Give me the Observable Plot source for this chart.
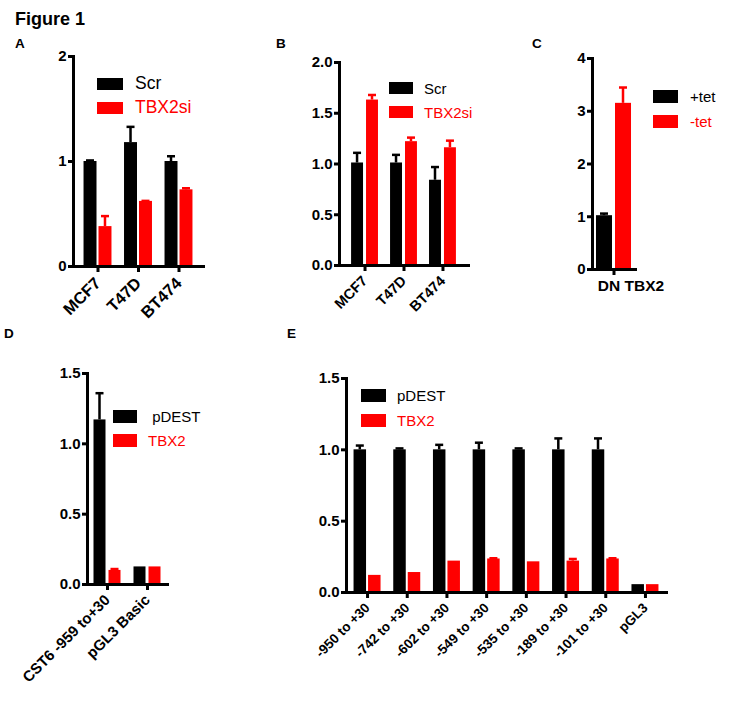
<!DOCTYPE html>
<html><head><meta charset="utf-8">
<script src="https://cdn.jsdelivr.net/npm/d3@7"></script>
<script src="https://cdn.jsdelivr.net/npm/@observablehq/plot@0.6"></script>
<style>
body{margin:0;background:#fff;}
#root{position:relative;width:730px;height:708px;font-family:"Liberation Sans",Arial,sans-serif;color:#000;overflow:hidden;}
.abs{position:absolute;line-height:1;white-space:nowrap;}
.bold{font-weight:bold;}
.sw{position:absolute;}
</style></head><body><div id="root"></div>
<script>
// ---------------- data ----------------
const RED = "#ff0000";

const catsA = ["MCF7", "T47D", "BT474"];
const seriesA = ["Scr", "TBX2si"];
const scrA = [1.0, 1.18, 1.0];
const scrErrA = [0.01, 0.15, 0.05];
const siA = [0.38, 0.62, 0.73];
const siErrA = [0.10, 0.005, 0.015];
const ticksA = [0, 1, 2];

const catsB = ["MCF7", "T47D", "BT474"];
const seriesB = ["Scr", "TBX2si"];
const scrB = [1.01, 1.01, 0.84];
const scrErrB = [0.10, 0.08, 0.13];
const siB = [1.63, 1.22, 1.16];
const siErrB = [0.05, 0.04, 0.07];
const ticksB = [0, 0.5, 1.0, 1.5, 2.0];

const catsC = ["DN TBX2"];
const seriesC = ["+tet", "-tet"];
const plusTetC = [1.02];
const plusTetErrC = [0.04];
const minusTetC = [3.15];
const minusTetErrC = [0.30];
const ticksC = [0, 1, 2, 3, 4];

const catsD = ["CST6 -959 to+30", "pGL3 Basic"];
const seriesD = [" pDEST", "TBX2"];
const pdestD = [1.17, 0.125];
const pdestErrD = [0.19, 0];
const tbx2D = [0.10, 0.125];
const tbx2ErrD = [0.01, 0];
const ticksD = [0, 0.5, 1.0, 1.5];

const catsE = ["-950 to +30", "-742 to +30", "-602 to +30", "-549 to +30", "-535 to +30", "-189 to +30", "-101 to +30", "pGL3"];
const seriesE = ["pDEST", "TBX2"];
const pdestE = [1.0, 1.0, 1.0, 1.0, 1.0, 1.0, 1.0, 0.055];
const pdestErrE = [0.03, 0.01, 0.035, 0.05, 0.01, 0.08, 0.08, 0];
const tbx2E = [0.12, 0.14, 0.22, 0.235, 0.215, 0.22, 0.235, 0.055];
const tbx2ErrE = [0, 0, 0, 0.005, 0, 0.015, 0.005, 0];
const ticksE = [0, 0.5, 1.0, 1.5];

// ---------------- drawing ----------------
const root = document.getElementById("root");

function text(str, left, top, size, opts = {}) {
  const d = document.createElement("div");
  d.className = "abs" + (opts.bold ? " bold" : "");
  d.textContent = str;
  d.style.left = left + "px";
  d.style.top = top + "px";
  d.style.fontSize = size + "px";
  d.style.color = opts.color || "#000";
  if (opts.white) d.style.whiteSpace = "pre";
  root.appendChild(d);
}
function swatch(left, top, w, h, color) {
  const d = document.createElement("div");
  d.className = "sw";
  Object.assign(d.style, {left: left + "px", top: top + "px", width: w + "px", height: h + "px", background: color});
  root.appendChild(d);
}
function legend(names, x, tx, y1, y2, w, h, size = 15) {
  swatch(x, y1, w, h, "#000");
  swatch(x, y2, w, h, RED);
  text(names[0], tx, y1 + h / 2 - 0.4885 * size, size, {color: "#000", white: true});
  text(names[1], tx, y2 + h / 2 - 0.4885 * size, size, {color: RED, white: true});
}

function panel(cfg) {
  const {cats, v1, e1, v2, e2, ydom, ticks, fmt, W, H, m, pi, po, gap, rotate, left, top, xFont, yFont, xPad, xdx = 0} = cfg;
  const n = cats.length;
  const innerW = W - m.l - m.r;
  const step = innerW / (n - pi + 2 * po);
  const bw = step * (1 - pi);
  const rows = cats.map((c, i) => ({c, v1: v1[i], e1: e1[i], v2: v2[i], e2: e2[i]}));
  const wW = 2.5, capW = 8;
  const c1 = (bw - gap) / 4, c2 = (3 * bw + gap) / 4;
  const ins = (c, w) => ({insetLeft: c - w / 2, insetRight: bw - c - w / 2});
  const err1 = rows.filter(d => d.e1 > 0), err2 = rows.filter(d => d.e2 > 0);
  const svg = Plot.plot({
    width: W, height: H,
    marginLeft: m.l, marginRight: m.r, marginTop: m.t, marginBottom: m.b,
    x: {domain: cats, paddingInner: pi, paddingOuter: po, round: false},
    y: {domain: ydom},
    style: {fontFamily: "'Liberation Sans', Arial, sans-serif", fontSize: "14px", fontWeight: "bold", background: "transparent", overflow: "visible", color: "#000"},
    marks: [
      Plot.barY(rows, {x: "c", y: "v1", fill: "#000", insetLeft: 0, insetRight: bw / 2 + gap / 2}),
      Plot.barY(rows, {x: "c", y: "v2", fill: RED, insetLeft: bw / 2 + gap / 2, insetRight: 0}),
      Plot.barY(err1, {x: "c", y1: "v1", y2: d => d.v1 + d.e1, fill: "#000", ...ins(c1, wW)}),
      Plot.tickY(err1, {x: "c", y: d => d.v1 + d.e1, stroke: "#000", strokeWidth: 2.5, ...ins(c1, capW)}),
      Plot.barY(err2, {x: "c", y1: "v2", y2: d => d.v2 + d.e2, fill: RED, ...ins(c2, wW)}),
      Plot.tickY(err2, {x: "c", y: d => d.v2 + d.e2, stroke: RED, strokeWidth: 2.5, ...ins(c2, capW)}),
      Plot.axisY({ticks, tickFormat: d3.format(fmt), tickSize: 5, tickPadding: 2, strokeWidth: 3, label: null, fontSize: yFont}),
      Plot.axisX({tickSize: 6, tickPadding: 0, strokeWidth: 3, text: null, label: null}),
      Plot.axisX({tickSize: 0, tickPadding: xPad, tickRotate: rotate, label: null, fontSize: xFont, dx: xdx}),
      Plot.frame({anchor: "left", strokeWidth: 3}),
      Plot.frame({anchor: "bottom", strokeWidth: 3})
    ]
  });
  const wrap = document.createElement("div");
  Object.assign(wrap.style, {position: "absolute", left: left + "px", top: top + "px"});
  wrap.appendChild(svg);
  root.appendChild(wrap);
}

// titles
text("Figure 1", 15, 10.2, 18, {bold: true});
text("A", 15, 37, 13.5, {bold: true});
text("B", 276, 37, 13.5, {bold: true});
text("C", 532, 37, 13.5, {bold: true});
text("D", 4, 327, 13.5, {bold: true});
text("E", 287, 327, 13.5, {bold: true});

panel({cats: catsA, v1: scrA, e1: scrErrA, v2: siA, e2: siErrA, ydom: [0, 2], ticks: ticksA, fmt: "d",
  W: 215, H: 300, m: {t: 16, r: 12, b: 74, l: 73}, pi: 0.31, po: 0.26, gap: 2, rotate: -45, left: 0, top: 40,
  xFont: 16.5, yFont: 15, xPad: 14});
panel({cats: catsB, v1: scrB, e1: scrErrB, v2: siB, e2: siErrB, ydom: [0, 2], ticks: ticksB, fmt: ".1f",
  W: 230, H: 300, m: {t: 22, r: 12, b: 75, l: 89}, pi: 0.31, po: 0.31, gap: 3, rotate: -45, left: 250, top: 40,
  xFont: 14.5, yFont: 15, xPad: 13});
panel({cats: catsC, v1: plusTetC, e1: plusTetErrC, v2: minusTetC, e2: minusTetErrC, ydom: [0, 4], ticks: ticksC, fmt: "d",
  W: 210, H: 300, m: {t: 18, r: 95, b: 71, l: 72}, pi: 0, po: 0.114, gap: 3, rotate: 0, left: 520, top: 40,
  xFont: 15.5, yFont: 15, xPad: 10, xdx: 17});
panel({cats: catsD, v1: pdestD, e1: pdestErrD, v2: tbx2D, e2: tbx2ErrD, ydom: [0, 1.5], ticks: ticksD, fmt: ".1f",
  W: 230, H: 358, m: {t: 23, r: 63, b: 124, l: 87}, pi: 0.325, po: 0.1625, gap: 3, rotate: -45, left: 0, top: 350,
  xFont: 15, yFont: 15, xPad: 13});
panel({cats: catsE, v1: pdestE, e1: pdestErrE, v2: tbx2E, e2: tbx2ErrE, ydom: [0, 1.5], ticks: ticksE, fmt: ".1f",
  W: 430, H: 358, m: {t: 28, r: 14, b: 116, l: 96}, pi: 0.32, po: 0.19, gap: 2, rotate: -45, left: 250, top: 350,
  xFont: 13.5, yFont: 15, xPad: 13});

legend(seriesA, 97, 135, 78, 102, 26, 12, 17.5);
legend(seriesB, 389, 424, 82, 106, 24, 12, 15);
legend(seriesC, 653, 690, 90, 115, 25, 13, 15);
legend(seriesD, 113, 148, 410, 434, 24, 13, 15);
legend(seriesE, 361, 397, 389, 414, 25, 13, 15);
</script></body></html>
